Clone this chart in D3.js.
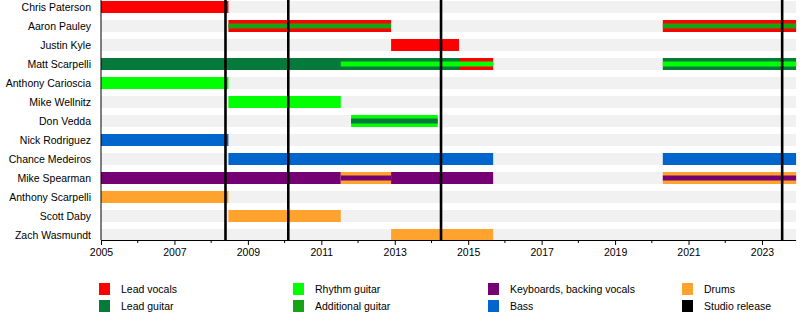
<!DOCTYPE html>
<html>
<head>
<meta charset="utf-8">
<script src="https://cdn.jsdelivr.net/npm/d3@7"></script>
<style>
  body { margin: 0; background: #fff; }
  svg text { font-family: "Liberation Sans", Arial, sans-serif; font-size: 10.5px; fill: #000; }
</style>
</head>
<body>
<div id="chart"></div>
<script>
// band members, top to bottom
const members = ["Chris Paterson", "Aaron Pauley", "Justin Kyle", "Matt Scarpelli", "Anthony Carioscia",
    "Mike Wellnitz", "Don Vedda", "Nick Rodriguez", "Chance Medeiros", "Mike Spearman",
    "Anthony Scarpelli", "Scott Daby", "Zach Wasmundt"];

// roles (legend order) and their colours
const roles = ["Lead vocals", "Lead guitar", "Rhythm guitar", "Additional guitar",
    "Keyboards, backing vocals", "Bass", "Drums", "Studio release"];
const roleColors = ["#ff0000", "#057a3a", "#00ff00", "#16a416", "#740074", "#0066cc", "#ffa22e", "#000000"];

const present = 2023.93;

// member, role, from, to, main bar or inner stripe
const spans = [
    ["Chris Paterson", "Lead vocals", 2005, 2008.47, "main"],
    ["Aaron Pauley", "Lead vocals", 2008.47, 2012.9, "main"],
    ["Aaron Pauley", "Additional guitar", 2008.47, 2012.9, "inner"],
    ["Aaron Pauley", "Lead vocals", 2020.3, present, "main"],
    ["Aaron Pauley", "Additional guitar", 2020.3, present, "inner"],
    ["Justin Kyle", "Lead vocals", 2012.9, 2014.75, "main"],
    ["Matt Scarpelli", "Lead guitar", 2005, 2014.75, "main"],
    ["Matt Scarpelli", "Lead vocals", 2014.75, 2015.68, "main"],
    ["Matt Scarpelli", "Rhythm guitar", 2011.53, 2015.68, "inner"],
    ["Matt Scarpelli", "Lead guitar", 2020.3, present, "main"],
    ["Matt Scarpelli", "Rhythm guitar", 2020.3, present, "inner"],
    ["Anthony Carioscia", "Rhythm guitar", 2005, 2008.47, "main"],
    ["Mike Wellnitz", "Rhythm guitar", 2008.47, 2011.53, "main"],
    ["Don Vedda", "Rhythm guitar", 2011.81, 2014.17, "main"],
    ["Don Vedda", "Lead guitar", 2011.81, 2014.17, "inner"],
    ["Nick Rodriguez", "Bass", 2005, 2008.47, "main"],
    ["Chance Medeiros", "Bass", 2008.47, 2015.68, "main"],
    ["Chance Medeiros", "Bass", 2020.3, present, "main"],
    ["Mike Spearman", "Keyboards, backing vocals", 2005, 2011.53, "main"],
    ["Mike Spearman", "Drums", 2011.53, 2012.9, "main"],
    ["Mike Spearman", "Keyboards, backing vocals", 2011.53, 2012.9, "inner"],
    ["Mike Spearman", "Keyboards, backing vocals", 2012.9, 2015.68, "main"],
    ["Mike Spearman", "Drums", 2020.3, present, "main"],
    ["Mike Spearman", "Keyboards, backing vocals", 2020.3, present, "inner"],
    ["Anthony Scarpelli", "Drums", 2005, 2008.47, "main"],
    ["Scott Daby", "Drums", 2008.47, 2011.53, "main"],
    ["Zach Wasmundt", "Drums", 2012.9, 2015.68, "main"]
];

// studio albums
const releases = [2008.39, 2010.1, 2014.26, 2023.55];

const yearTicks = d3.range(2005, 2024, 2);

const width = 800, height = 320;
const margin = { top: 0, right: 4, bottom: 80, left: 101 };

const svg = d3.select("#chart").append("svg")
    .attr("width", width)
    .attr("height", height);

const x = d3.scaleLinear()
    .domain([2005, 2024])
    .range([margin.left, margin.left + 19 * 36.72]);

const y = d3.scalePoint()
    .domain(members)
    .range([7, 235]);

const color = d3.scaleOrdinal().domain(roles).range(roleColors);

const plotRight = x(present);

// light grey row bands
svg.append("g").selectAll("rect")
    .data(members)
    .join("rect")
    .attr("x", margin.left)
    .attr("width", plotRight - margin.left)
    .attr("y", d => y(d) - 6)
    .attr("height", 12)
    .attr("fill", "#f1f1f1");

// main bars, then inner stripes on top
svg.append("g").selectAll("rect")
    .data(spans.filter(d => d[4] === "main"))
    .join("rect")
    .attr("x", d => x(d[2]))
    .attr("width", d => x(d[3]) - x(d[2]))
    .attr("y", d => y(d[0]) - 6)
    .attr("height", 12)
    .attr("fill", d => color(d[1]));

svg.append("g").selectAll("rect")
    .data(spans.filter(d => d[4] === "inner"))
    .join("rect")
    .attr("x", d => x(d[2]))
    .attr("width", d => x(d[3]) - x(d[2]))
    .attr("y", d => y(d[0]) - 2.5)
    .attr("height", 5)
    .attr("fill", d => color(d[1]));

// release lines, drawn over the bars
svg.append("g").selectAll("line")
    .data(releases)
    .join("line")
    .attr("x1", d => x(d)).attr("x2", d => x(d))
    .attr("y1", 0).attr("y2", height - margin.bottom)
    .attr("stroke", "#000")
    .attr("stroke-width", 2.6);

// member names
svg.append("g").selectAll("text")
    .data(members)
    .join("text")
    .attr("x", margin.left - 10)
    .attr("y", d => y(d))
    .attr("dy", "0.35em")
    .attr("text-anchor", "end")
    .text(d => d);

// left edge
svg.append("line")
    .attr("x1", margin.left).attr("x2", margin.left)
    .attr("y1", 0).attr("y2", height - margin.bottom)
    .attr("stroke", "#000");

// time axis
const xAxis = svg.append("g")
    .attr("transform", `translate(0, ${height - margin.bottom})`)
    .call(d3.axisBottom(x).tickValues(yearTicks).tickFormat(d3.format("d")).tickSize(5).tickSizeOuter(0));
xAxis.select(".domain").attr("d", `M${margin.left},0.5H${plotRight}`);
xAxis.selectAll(".tick text").attr("y", 9).style("font-size", "10.5px").style("font-family", "Liberation Sans, Arial, sans-serif");

// minor year ticks
xAxis.append("g").selectAll("line")
    .data(d3.range(2006, 2024, 2))
    .join("line")
    .attr("x1", d => x(d)).attr("x2", d => x(d))
    .attr("y1", 0).attr("y2", 3)
    .attr("stroke", "#000");

// legend
const legend = svg.append("g");
const legendCols = [99, 293, 488, 682];
legend.selectAll("g")
    .data(roles)
    .join("g")
    .attr("transform", (d, i) => `translate(${legendCols[Math.floor(i / 2)]}, ${i % 2 === 0 ? 283 : 300})`)
    .each(function (d) {
        const g = d3.select(this);
        g.append("rect").attr("width", 11).attr("height", 12).attr("fill", color(d));
        g.append("text").attr("x", 22).attr("y", 6).attr("dy", "0.35em").text(d);
    });
</script>
</body>
</html>
